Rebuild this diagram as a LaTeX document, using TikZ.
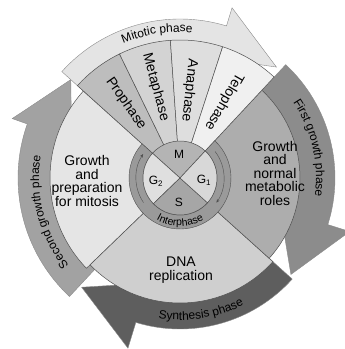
\documentclass[tikz,border=0pt]{standalone}
\usepackage{fontspec}
\setmainfont{Liberation Sans}
\usetikzlibrary{arrows.meta,decorations.text}
\definecolor{linegray}{HTML}{505050}
\definecolor{edgegray}{HTML}{8A8A8A}
\definecolor{mitband}{HTML}{E4E4E4}
\definecolor{gonearrow}{HTML}{8C8C8C}
\definecolor{sarrow}{HTML}{5E5E5E}
\definecolor{gtwoarrow}{HTML}{A2A2A2}
\definecolor{prophase}{HTML}{BDBDBD}
\definecolor{metaphase}{HTML}{D3D3D3}
\definecolor{anaphase}{HTML}{DEDEDE}
\definecolor{telophase}{HTML}{F0F0F0}
\definecolor{gonesec}{HTML}{ADADAD}
\definecolor{ssec}{HTML}{CFCFCF}
\definecolor{gtwosec}{HTML}{E5E5E5}
\definecolor{ringgray}{HTML}{9A9A9A}
\definecolor{innerm}{HTML}{B4B4B4}
\definecolor{innergone}{HTML}{D8D8D8}
\definecolor{inners}{HTML}{A6A6A6}
\definecolor{innergtwo}{HTML}{DFDFDF}
\newcommand{\cyclearrow}[6]{%
  \filldraw[fill=#1, draw=edgegray, line width=0.4pt] (#2:#6)
    arc[start angle=#2, end angle=#3, radius=#6] -- (#3:178) -- (#4:147)
    -- (#3:#5) arc[start angle=#3, end angle=#2, radius=#5] -- cycle;}
\newcommand{\bandtext}[4]{%
  \path[decorate, decoration={text along path, text align=center,
    text={|\fontsize{12}{12}\selectfont|#4}}] (#1:#3)
    arc[start angle=#1, end angle=#2, radius=#3];}
\begin{document}
\begin{tikzpicture}[x=1pt, y=1pt,
    sector/.style={draw=linegray, line width=0.5pt},
    lbl/.style={align=center, font=\fontsize{14}{13.5}\selectfont},
    wedgelbl/.style={font=\fontsize{14}{14}\selectfont},
    corelbl/.style={font=\fontsize{12}{12}\selectfont}]
\useasboundingbox (-180,-171) rectangle (165,178);
\cyclearrow{mitband}{138}{73}{49}{125}{159}
\cyclearrow{gonearrow}{47}{-17.5}{-41}{105}{155}
\cyclearrow{sarrow}{-42}{-107}{-132}{110}{151}
\cyclearrow{gtwoarrow}{227}{160.5}{138}{115}{162}
\filldraw[fill=gtwosec, sector] (0,0) -- (138:130) arc[start angle=138, end angle=224, radius=130] -- cycle;
\filldraw[fill=ssec, sector] (0,0) -- (224:125) arc[start angle=224, end angle=318, radius=125] -- cycle;
\filldraw[fill=gonesec, sector] (0,0) -- (318:120) arc[start angle=318, end angle=407, radius=120] -- cycle;
\foreach \a/\b/\c in {138/116/prophase, 116/94/metaphase, 94/72/anaphase, 72/47/telophase}
  \filldraw[fill=\c, sector] (0,0) -- (\a:138) arc[start angle=\a, end angle=\b, radius=138] -- cycle;
\bandtext{118}{80}{146}{Mitotic phase}
\bandtext{40}{-14}{136}{First growth phase}
\bandtext{-104}{-58}{142}{Synthesis phase}
\bandtext{222}{167}{141}{Second growth phase}
\filldraw[fill=ringgray, draw=linegray] (47:51) arc[start angle=47, end angle=-222, radius=51]
  -- (138:37) arc[start angle=138, end angle=407, radius=37] -- cycle;
\draw[linegray, -{Stealth[length=3.5pt,width=3pt]}] (214:44) arc[start angle=214, end angle=147, radius=44];
\draw[linegray, -{Stealth[length=3.5pt,width=3pt]}] (37:44) arc[start angle=37, end angle=-34, radius=44];
\path[decorate, decoration={text along path, text align=center,
  text={|\fontsize{10.5}{11}\selectfont|Interphase}}] (-128:48) arc[start angle=-128, end angle=-52, radius=48];
\foreach \a/\b/\c in {47/138/innerm, 138/224/innergtwo, 224/318/inners, 318/407/innergone}
  \filldraw[fill=\c, sector] (0,0) -- (\a:37) arc[start angle=\a, end angle=\b, radius=37] -- cycle;
\node[corelbl] (m) at (-1,24) {M};
\node[corelbl] (gtwo) at (-24,-3) {G\textsubscript{2}};
\node[corelbl] (gone) at (24,-2) {G\textsubscript{1}};
\node[corelbl] (s) at (-1,-24) {S};
\node[lbl] (gtwotxt) at (-93,-3) {Growth\\and\\preparation\\for mitosis};
\node[lbl] (gonetxt) at (95,5) {Growth\\and\\normal\\metabolic\\roles};
\node[lbl] (stxt) at (1,-92) {DNA\\replication};
\node[wedgelbl, rotate=-55] (pro) at (126:92) {Prophase};
\node[wedgelbl, rotate=-75] (meta) at (105:94) {Metaphase};
\node[wedgelbl, rotate=-96] (ana) at (84:88) {Anaphase};
\node[wedgelbl, rotate=-120] (telo) at (60:88) {Telophase};
\end{tikzpicture}
\end{document}
